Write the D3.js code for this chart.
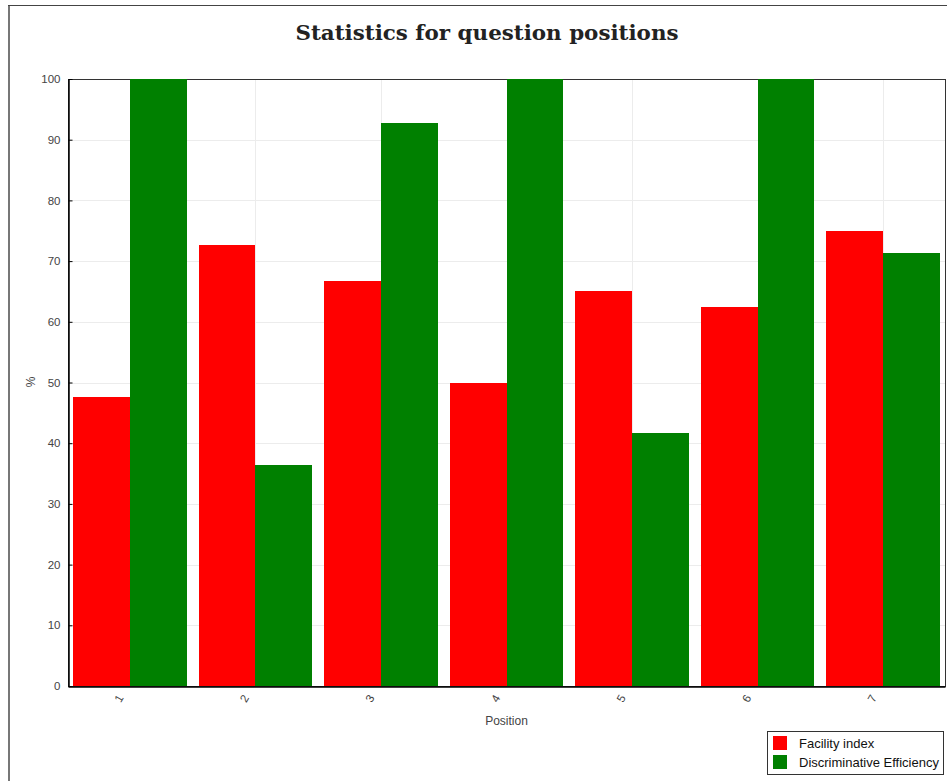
<!DOCTYPE html>
<html>
<head>
<meta charset="utf-8">
<script src="https://cdn.jsdelivr.net/npm/d3@7"></script>
<style>
  body { margin: 0; background: #fff; }
  svg { display: block; }
  .tick text { font-family: "Liberation Sans", Arial, sans-serif; font-size: 11.5px; fill: #444; }
</style>
</head>
<body>
<div id="chart"></div>
<script>
// chart data
var positions = ["1", "2", "3", "4", "5", "6", "7"];
var facilityIndex = [47.6, 72.6, 66.7, 50.0, 65.1, 62.5, 75.0];
var discrimEfficiency = [100, 36.4, 92.8, 100, 41.7, 100, 71.4];
var seriesNames = ["Facility index", "Discriminative Efficiency"];
var seriesColors = ["#ff0000", "#008000"];
var yTicks = [0, 10, 20, 30, 40, 50, 60, 70, 80, 90, 100];

var width = 947, height = 781;
var plotLeft = 68, plotRight = 945, plotTop = 79, plotBottom = 686;

var svg = d3.select("#chart").append("svg")
    .attr("width", width)
    .attr("height", height);

// page frame
svg.append("line").attr("x1", 9).attr("x2", 9).attr("y1", 5).attr("y2", height)
    .style("stroke", "#777").style("stroke-width", 2);
svg.append("line").attr("x1", 8).attr("x2", width).attr("y1", 5.5).attr("y2", 5.5)
    .style("stroke", "#444").style("stroke-width", 1);

// title
svg.append("text")
    .attr("x", 487)
    .attr("y", 40)
    .attr("text-anchor", "middle")
    .attr("textLength", 383)
    .attr("lengthAdjust", "spacingAndGlyphs")
    .style("font-family", "'DejaVu Serif', Georgia, serif")
    .style("font-weight", "bold")
    .style("font-size", "21px")
    .style("fill", "#222")
    .text("Statistics for question positions");

var x = d3.scaleBand()
    .domain(positions)
    .range([plotLeft, plotRight])
    .paddingInner(0.095)
    .paddingOuter(0.04);

var x1 = d3.scaleBand()
    .domain(d3.range(seriesNames.length))
    .range([0, x.bandwidth()]);

var y = d3.scaleLinear()
    .domain([0, 100])
    .range([plotBottom, plotTop]);

// grid
svg.append("g")
    .selectAll("line")
    .data(yTicks.slice(1, -1))
    .enter().append("line")
    .attr("x1", plotLeft).attr("x2", plotRight)
    .attr("y1", function (d) { return Math.round(y(d)) + 0.5; })
    .attr("y2", function (d) { return Math.round(y(d)) + 0.5; })
    .style("stroke", "#ececec");

svg.append("g")
    .selectAll("line")
    .data(positions)
    .enter().append("line")
    .attr("x1", function (d) { return Math.round(x(d) + x.bandwidth() / 2) + 0.5; })
    .attr("x2", function (d) { return Math.round(x(d) + x.bandwidth() / 2) + 0.5; })
    .attr("y1", plotTop).attr("y2", plotBottom)
    .style("stroke", "#ececec");

// frame (top, right)
svg.append("rect")
    .attr("x", plotLeft + 0.5).attr("y", plotTop + 0.5)
    .attr("width", plotRight - plotLeft).attr("height", plotBottom - plotTop)
    .style("fill", "none")
    .style("stroke", "#333");

// y axis
var yAxis = svg.append("g")
    .attr("transform", "translate(" + (plotLeft + 0.5) + ",0)")
    .call(d3.axisLeft(y).tickValues(yTicks).tickSizeInner(-4).tickSizeOuter(0).tickPadding(8));
yAxis.select(".domain").style("stroke", "#000").style("stroke-width", 1.5);
yAxis.selectAll(".tick line").style("stroke", "#000");

// x axis
var xAxis = svg.append("g")
    .attr("transform", "translate(0," + (plotBottom + 0.5) + ")")
    .call(d3.axisBottom(x).tickSize(0));
xAxis.select(".domain").style("stroke", "#000").style("stroke-width", 1.5);
xAxis.selectAll(".tick text")
    .attr("text-anchor", "middle")
    .attr("y", 0)
    .attr("dy", "0.35em")
    .attr("transform", "translate(-11,12) rotate(-60)");

// bars
var table = positions.map(function (p, i) {
    return { pos: p, values: [facilityIndex[i], discrimEfficiency[i]] };
});

var groups = svg.append("g")
    .selectAll("g")
    .data(table)
    .enter().append("g")
    .attr("transform", function (d) { return "translate(" + x(d.pos) + ",0)"; });

groups.selectAll("rect")
    .data(function (d) { return d.values; })
    .enter().append("rect")
    .attr("x", function (d, i) { return x1(i); })
    .attr("width", x1.bandwidth())
    .attr("y", function (d) { return y(d); })
    .attr("height", function (d) { return plotBottom - y(d); })
    .attr("shape-rendering", "crispEdges")
    .style("fill", function (d, i) { return seriesColors[i]; });

// axis titles
svg.append("text")
    .attr("x", (plotLeft + plotRight) / 2)
    .attr("y", 725)
    .attr("text-anchor", "middle")
    .style("font-family", "'Liberation Sans', Arial, sans-serif")
    .style("font-size", "12px")
    .style("fill", "#444")
    .text("Position");

svg.append("text")
    .attr("transform", "translate(35,382) rotate(-90)")
    .attr("text-anchor", "middle")
    .style("font-family", "'Liberation Sans', Arial, sans-serif")
    .style("font-size", "12px")
    .style("fill", "#444")
    .text("%");

// legend
var legend = svg.append("g").attr("transform", "translate(767,731)");
legend.append("rect")
    .attr("x", 0.5).attr("y", 0.5)
    .attr("width", 176).attr("height", 43)
    .style("fill", "#fff")
    .style("stroke", "#333");

var items = legend.selectAll("g")
    .data(seriesNames)
    .enter().append("g")
    .attr("transform", function (d, i) { return "translate(6," + (5 + i * 19) + ")"; });

items.append("rect")
    .attr("width", 14).attr("height", 14)
    .style("fill", function (d, i) { return seriesColors[i]; });

items.append("text")
    .attr("x", 26)
    .attr("y", 11.5)
    .style("font-family", "'Liberation Sans', Arial, sans-serif")
    .style("font-size", "13px")
    .style("fill", "#111")
    .text(function (d) { return d; });
</script>
</body>
</html>
